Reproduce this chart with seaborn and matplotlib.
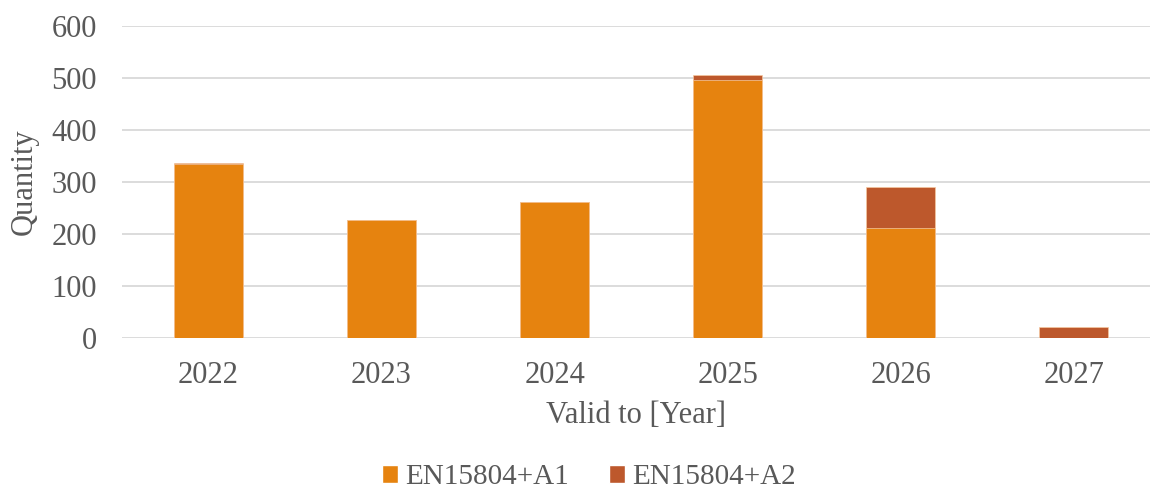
import matplotlib
matplotlib.use("Agg")
import matplotlib.pyplot as plt
import seaborn as sns
import pandas as pd
from matplotlib.patches import Patch

years = ["2022", "2023", "2024", "2025", "2026", "2027"]
a1 = [335, 227, 262, 497, 211, 0]
a2 = [2, 0, 0, 9, 79, 21]
series_names = ["EN15804+A1", "EN15804+A2"]
y_ticks = [0, 100, 200, 300, 400, 500, 600]

C1 = "#E6830F"
C2 = "#BD582C"
TXT = "#595959"

sns.set_theme(style="white")
plt.rcParams["font.family"] = ["Liberation Serif", "DejaVu Serif"]

df = pd.DataFrame({"year": years, "a1": a1, "a2": a2})
df["total"] = df["a1"] + df["a2"]

fig = plt.figure(figsize=(11.5, 4.95), dpi=100)
ax = fig.add_axes([0.106, 0.318, 0.894, 0.629])

sns.barplot(data=df, x="year", y="total", color=C2, width=0.4, saturation=1,
            edgecolor="#F6C9A0", linewidth=0.5, ax=ax, zorder=3)
sns.barplot(data=df, x="year", y="a1", color=C1, width=0.4, saturation=1,
            edgecolor="#F6C9A0", linewidth=0.5, ax=ax, zorder=3)

ax.set_ylim(0, 600)
ax.set_xlim(-0.5, 5.44)
ax.set_yticks(y_ticks)
ax.yaxis.grid(True, color="#D9D9D9", linewidth=1.3, zorder=0)
ax.xaxis.grid(False)
for s in ax.spines.values():
    s.set_visible(False)
ax.tick_params(axis="both", length=0, labelsize=22, labelcolor=TXT)
ax.tick_params(axis="x", pad=17)
ax.tick_params(axis="y", pad=18)
ax.set_xlabel("Valid to [Year]", fontsize=22, color=TXT, labelpad=8)
ax.set_ylabel("Quantity", fontsize=22, color=TXT, labelpad=9)

handles = [Patch(facecolor=C1), Patch(facecolor=C2)]
fig.legend(handles, series_names, loc="center", bbox_to_anchor=(0.512, 0.036),
           ncol=2, frameon=False, fontsize=21, labelcolor=TXT,
           handlelength=0.55, handleheight=0.55, handletextpad=0.25,
           columnspacing=1.35, borderpad=0)

fig.savefig("out.png", dpi=100)
